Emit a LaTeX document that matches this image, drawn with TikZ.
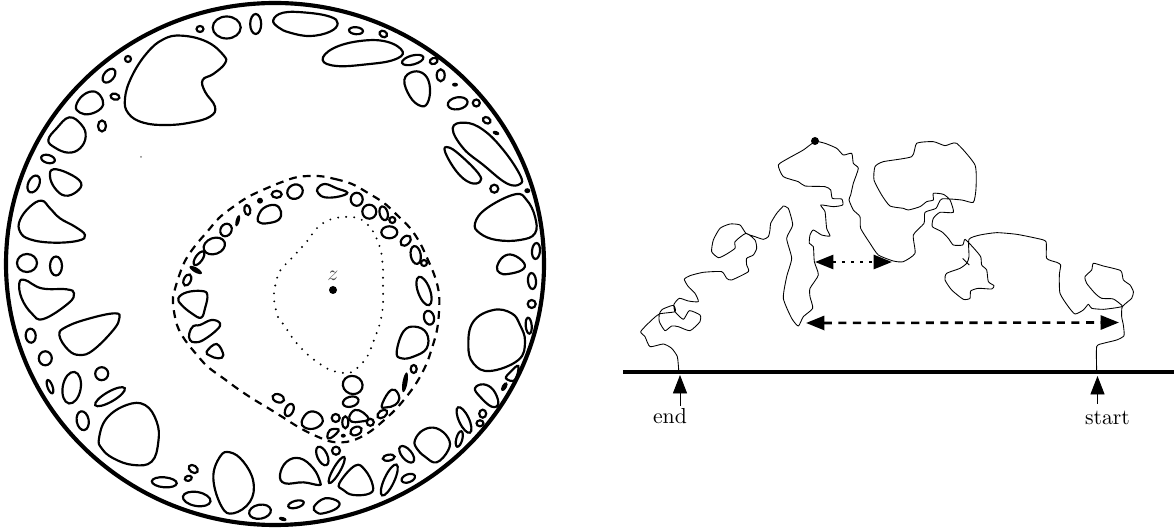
\documentclass[tikz,border=0pt]{standalone}
\usetikzlibrary{arrows.meta}
\tikzset{
	blob/.style={line width=1pt},
	third/.style={x=.15333pt,y=-.15333pt},
	walk/.style={line width=.4pt,line join=round},
	bigtip/.style={-{Triangle[length=8.5pt,width=6.5pt]}},
	bothtips/.style={{Triangle[length=8.5pt,width=6.5pt]}-{Triangle[length=8.5pt,width=6.5pt]}},
}
\newcommand{\blob}[1]{\draw[blob] plot[smooth cycle,tension=.7] coordinates {#1};}
\newcommand{\walkline}[1]{\draw[walk] plot[smooth,tension=.35] coordinates {#1};}
\begin{document}
\begin{tikzpicture}[x=.46pt,y=-.46pt]
	\useasboundingbox (0,0) rectangle (1174,529);
	% disc
	\draw[line width=1.9pt] (275,264) ellipse (269 and 261);
	% upper left
	\begin{scope}[third]
		\blob{(545,107) (620,125) (670,165) (675,190) (640,222) (608,240) (615,275) (645,320) (630,350) (570,368) (500,375) (430,368) (385,340) (375,295) (395,230) (440,160) (490,118)}
		\blob{(228,318) (250,285) (285,275) (308,300) (303,325) (270,342) (240,338)}
		\blob{(208,352) (245,375) (257,410) (240,445) (205,458) (165,443) (145,420) (170,385)}
		\blob{(160,508) (205,520) (243,548) (230,575) (195,587) (165,565) (150,530)}
		\blob{(125,602) (150,625) (180,655) (225,680) (255,705) (235,722) (160,728) (90,718) (60,695) (60,660) (90,620)}
	\end{scope}
	% upper right
	\begin{scope}[third,shift={(810,0)}]
		\blob{(10,60) (40,38) (110,38) (180,50) (203,70) (180,95) (120,108) (60,98) (25,82)}
		\blob{(158,180) (190,145) (270,123) (350,125) (398,155) (370,180) (290,193) (200,198)}
		\blob{(403,240) (430,215) (465,225) (480,265) (472,310) (450,317) (420,290)}
		\blob{(548,385) (585,368) (640,390) (700,450) (750,525) (750,552) (710,550) (640,495) (580,445)}
		\blob{(525,455) (535,442) (570,465) (625,520) (630,545) (600,548) (560,515)}
		\blob{(615,670) (650,625) (735,583) (770,600) (795,650) (795,700) (750,720) (680,720) (630,700)}
		\blob{(143,565) (165,552) (200,565) (232,578) (205,590) (165,592) (145,580)}
	\end{scope}
	% lower left
	\begin{scope}[third,shift={(0,795)}]
		\blob{(58,55) (75,45) (125,70) (200,73) (222,85) (205,115) (130,162) (95,145) (65,100)}
		\blob{(178,210) (200,185) (270,160) (345,145) (358,160) (340,195) (280,255) (240,270) (205,255)}
		\blob{(297,520) (320,460) (380,420) (435,420) (470,470) (475,530) (455,590) (400,600) (340,580) (305,550)}
		\blob{(640,640) (660,575) (690,562) (730,590) (760,650) (750,710) (700,745) (665,725)}
		\blob{(535,100) (560,82) (605,78) (622,90) (615,130) (603,158) (575,145) (545,120)}
		\blob{(568,205) (580,183) (600,180) (635,165) (660,175) (650,195) (610,225) (585,232) (570,225)}
		\blob{(620,260) (650,237) (670,270) (655,280) (630,272)}
	\end{scope}
	% lower right
	\begin{scope}[third,shift={(810,795)}]
		\blob{(595,240) (610,170) (670,135) (725,145) (750,180) (765,230) (745,285) (660,318) (610,295)}
		\blob{(745,303) (735,345) (708,340) (722,320)}
		\blob{(615,370) (640,358) (670,375) (685,415) (665,425) (630,395)}
		\blob{(435,525) (460,495) (500,490) (535,520) (535,555) (500,592) (465,575) (440,550)}
		\blob{(132,725) (165,700) (205,710) (200,730) (160,745) (140,742)}
		\blob{(30,630) (50,590) (90,580) (130,610) (150,650) (145,660) (100,652) (45,655)}
		\blob{(208,655) (255,602) (285,615) (308,660) (300,685) (250,690) (220,675)}
		\blob{(95,470) (115,442) (145,445) (158,470) (135,490) (105,488)}
		\blob{(380,262) (400,200) (435,185) (470,205) (470,250) (430,275) (395,280)}
	\end{scope}
	% inner ring
	\begin{scope}[third,shift={(495,510)}]
		\blob{(278,145) (295,115) (330,105) (348,125) (340,150) (305,160) (285,158)}
	\end{scope}
	\begin{scope}[third,shift={(840,1140)}]
		\blob{(208,110) (225,90) (250,98) (265,118) (240,125) (215,125)}
		\blob{(305,78) (325,38) (345,30) (358,55) (345,75) (320,82)}
		\blob{(142,170) (150,150) (175,148) (170,160) (150,175)}
	\end{scope}
	\blob{(497,267) (503,257) (513,255) (524,263) (522,270) (508,274) (500,273)}
	% small holes
	\foreach \px/\py/\rx/\ry/\rot in {
		200/29/3.5/3/0, 226.7/27.5/14/11/0, 255.7/24/5.5/10/0, 128/59/3/3/0, 109/75.7/8/5/50,
		115/96.7/4.5/3/-15, 102/126/4/5.5/0, 48/159/7/4/-15, 33.7/184/9/5.5/65,
		27/263/10/9/0, 56/266/6/9.5/0,
		356/30.7/7/3.5/-5, 383.3/34/4/3/-30, 412.7/60/11/4.5/15, 433.7/61/4/3/20,
		440.7/75.3/4/6/0, 457.7/103.3/10/6/10, 476.3/103/3.5/3.5/0, 486.7/120.3/4/3/-30,
		494.3/188.7/4/4/0, 536/251/4/8/-5, 532/281/4/8/5, 531.7/304/4/4/0, 528.7/325.7/3/8/5,
		482.7/413.7/3.5/4/0, 480/423.3/3.5/3/0, 464/420/14/5/-65, 459.3/439/8/3/75,
		406.7/454.3/10/5/-50, 388.7/457.7/6/3/10, 389.3/480/17/5/65, 408.3/478.3/7/4/20,
		296/504.3/8/3.5/15, 322.3/456/10/5/-65, 336.7/470/15/3.5/60, 336/450.7/4/4/0,
		30.7/335.7/5/7/5, 45.3/358.3/6.5/7/0, 50/386.7/7/2.5/-70, 71.7/387.7/9/16/-10,
		101.7/373.7/6.5/6.5/0, 110/396.7/17/5/30, 82.7/420.7/6/9.5/10,
		164.3/482.3/12.5/5/-5, 188.3/478.3/3.5/2.5/15, 193.3/469/5/3.5/-35, 196.7/499/14/7/-10,
		260/511.7/11/7/10,
		278.3/398.3/6/4/-20, 289.3/410/6.5/4/65, 335.7/418/4/4/0,
		345.3/422.3/3/6/0, 370.3/422.3/3.5/3.5/0, 382.3/414/5.5/3.5/35, 350.7/401.7/8/5/15,
		352.7/385/10/9/-20, 356/431/6/4/25,
		424/291/15/6/-70, 429/317.7/5/7/15, 413.7/369/3/4/0,
		187.3/280/6/3.5/65, 199/258.3/8/3.5/55, 214.3/246/11/8/20, 226/230/6.5/5.5/60,
		247.3/210/3/5/10, 276.7/194.3/5/3.5/0, 295/191.7/8/7/30,
		356.7/199.3/6/6.5/0, 369.3/211.7/7/7/0, 383.7/213.3/4/7/15, 392.3/220/3/3/0,
		389.3/232.3/8/6/0, 405.7/240.7/6/4/45, 415.7/255/5/9/10, 424/263/3/3/0}
		\draw[blob,rotate around={\rot:(\px,\py)}] (\px,\py) ellipse ({\rx} and {\ry});
	\foreach \px/\py/\rx/\ry/\rot in {
		455/84.7/3/2/0, 496/133/3.5/2/-20, 527.3/190.7/3/2.5/0, 504.3/386.7/5/2.5/60,
		282.7/519/4/2/-15, 343.3/435.7/2.5/2/0, 195.7/270/7/2.5/-30, 237.7/220.7/6/2/75,
		260/200.7/3/3/0, 405/382.3/10/2.5/80}
		\fill[rotate around={\rot:(\px,\py)}] (\px,\py) ellipse ({\rx} and {\ry});
	\fill[gray] (141,157) circle (1);
	% level line round z
	\draw[line width=1pt,dash pattern=on 3.6pt off 2.8pt] plot[smooth cycle,tension=.6] coordinates {
		(318,176) (335,179) (352,184) (368,193) (384,203) (397,215) (410,228) (420,243) (428,260) (435,277) (439,294) (439,312) (437,330) (432,348) (426,365) (417,382) (407,396) (395,410) (382,422) (368,433) (351,441) (333,442) (316,436) (300,428) (284,418) (268,408) (253,399) (238,389) (223,378) (208,367) (197,355) (185,340) (177,325) (173,305) (173,297) (178,279) (185,261) (195,246) (207,232) (219,218) (233,207) (248,197) (265,189) (282,182) (298,177)};
	\draw[line width=1pt,line cap=round,dash pattern=on 0pt off 3.7pt] plot[smooth cycle,tension=.6] coordinates {
		(289,261) (302,247) (308,240) (313,233) (319,226) (327,221) (335,218) (344,217) (353,217) (362,220) (369,226) (374,233) (378,242) (381,251) (382,259) (383,268) (383,287) (383,305) (380,323) (374,340) (367,357) (355,370) (347,373) (337,372) (328,369) (320,364) (307,354) (294,340) (284,325) (278,317) (274,300) (274,292) (278,275) (283,267)};
	\fill (333,290) circle (4) coordinate (zpoint);
	\node[text=black!70,inner sep=0pt] (zlabel) at (333,276) {$z$};
	% boundary
	\draw[line width=1.9pt] (623,372) coordinate (lineleft) -- (1174,372) coordinate (lineright);
	% curve, right part
	\begin{scope}[third,shift={(2310,375)}]
		\walkline{(980,735) (980,665) (1000,655) (1040,645) (1062,632) (1060,600) (1055,575) (1057,545) (1085,520) (1090,500) (1080,480) (1060,465) (1052,437) (1000,423) (970,415) (965,435) (945,455) (950,475) (975,505) (995,520) (1030,522) (1057,543) (1040,548) (1000,553) (965,550) (955,538) (940,555) (915,567) (895,545) (870,505) (868,450) (872,420) (860,412) (830,400) (828,350) (800,340) (740,328) (680,323) (630,330) (597,343) (597,395) (590,415) (570,430) (530,445) (525,465) (545,495) (580,523) (600,520) (602,498) (625,490) (665,492) (672,482) (655,470) (650,435) (635,420) (632,395) (610,368) (585,343) (578,360) (550,360) (535,340) (515,320) (487,305) (490,280) (510,262) (550,262) (540,225) (520,208) (490,205) (490,225) (470,230) (450,245) (415,255) (400,250) (360,243) (335,210) (312,165) (315,125) (340,110) (425,95) (440,55) (490,50) (525,62) (560,55) (615,120) (618,190) (610,232) (575,225) (515,222) (498,250) (465,262) (462,295) (430,330) (435,385) (400,410) (370,408) (325,390) (300,355) (272,310) (270,275) (250,255) (237,225) (242,210) (250,175) (265,130) (250,115) (245,85) (220,90) (200,70) (165,55) (135,50) (100,75) (55,100) (25,120) (40,155) (85,170) (105,183) (165,185) (182,195) (187,220) (215,222) (218,240) (190,245) (152,240) (165,260) (170,310) (180,333) (155,330) (130,315) (120,330) (118,355) (130,365) (133,410) (145,450) (120,490) (120,515) (128,550) (100,575) (85,603) (65,580) (40,520) (50,455) (65,400) (50,340) (68,300) (55,250) (40,243)}
		\draw[walk] (578,400) -- (598,420);
		\fill (135,48) circle (12);
	\end{scope}
	% curve, left part
	\begin{scope}[third,shift={(1860,570)}]
		\walkline{(490,48) (470,70) (452,100) (450,120) (445,140) (430,148) (405,140) (378,130) (360,105) (330,102) (300,115) (280,150) (275,185) (295,203) (315,195) (345,175) (345,155) (378,130) (405,150) (410,175) (400,195) (380,205) (380,225) (385,245) (335,270) (320,265) (305,245) (250,247) (210,257) (193,268) (205,290) (225,310) (235,335) (205,333) (178,325) (162,343) (165,365) (190,388) (208,362) (240,375) (240,395) (210,422) (175,410) (155,408) (135,422) (118,395) (118,372) (127,358) (160,346) (165,365) (118,372) (90,395) (62,425) (75,440) (90,470) (130,462) (155,475) (172,500) (176,540)}
	\end{scope}
	% distances
	\coordinate (dotleft) at (815,262);
	\coordinate (dotright) at (892,262);
	\coordinate (dashleft) at (806,323);
	\coordinate (dashright) at (1119,322.5);
	\draw[bothtips,line width=1.2pt,dash pattern=on 1.4pt off 2.8pt] (dotleft) -- (dotright);
	\draw[bothtips,line width=1.2pt,dash pattern=on 3.7pt off 3pt] (dashleft) -- (dashright);
	% end and start
	\node[inner sep=0pt] (endlabel) at (670,416) {end};
	\node[inner sep=0pt] (startlabel) at (1107.5,418) {start};
	\coordinate (endfoot) at (680,406);
	\coordinate (endhead) at (680,375);
	\coordinate (startfoot) at (1097.5,404);
	\coordinate (starthead) at (1097.5,376);
	\draw[bigtip,line width=.4pt] (endfoot) -- (endhead);
	\draw[bigtip,line width=.4pt] (startfoot) -- (starthead);
\end{tikzpicture}
\end{document}
